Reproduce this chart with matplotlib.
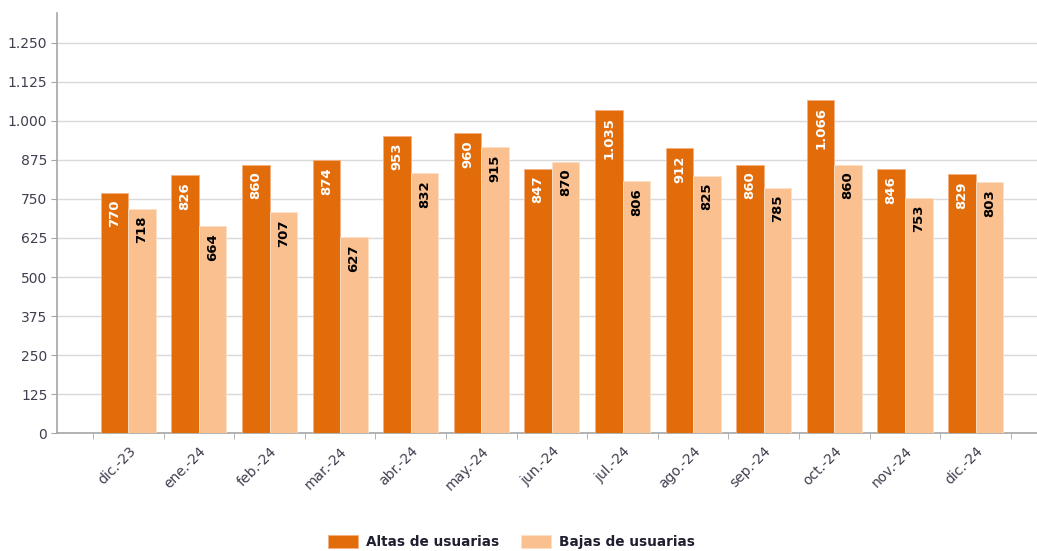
import matplotlib

matplotlib.use("Agg")
import matplotlib.pyplot as plt  # noqa: E402
import numpy as np  # noqa: E402

meses = ["dic.-23", "ene.-24", "feb.-24", "mar.-24", "abr.-24", "may.-24", "jun.-24",
         "jul.-24", "ago.-24", "sep.-24", "oct.-24", "nov.-24", "dic.-24"]
altas = [770, 826, 860, 874, 953, 960, 847, 1035, 912, 860, 1066, 846, 829]
bajas = [718, 664, 707, 627, 832, 915, 870, 806, 825, 785, 860, 753, 803]
yticks = [0, 125, 250, 375, 500, 625, 750, 875, 1000, 1125, 1250]

C_ALTAS = "#E36C0A"
C_BAJAS = "#FAC090"
TXT = "#3F3F4F"


def fmt(v):
    return f"{v:,}".replace(",", ".")


fig = plt.figure(figsize=(10.37, 5.51), dpi=100)
ax = fig.add_axes([0.055, 0.214, 0.945, 0.762])

x = np.arange(len(meses))
w = 0.39
b1 = ax.bar(x - w / 2, altas, w, color=C_ALTAS, edgecolor="#F4B183", linewidth=0.6,
            label="Altas de usuarias", zorder=3)
b2 = ax.bar(x + w / 2, bajas, w, color=C_BAJAS, edgecolor="#FDE0C8", linewidth=0.6,
            label="Bajas de usuarias", zorder=3)

# etiquetas de valor dentro de la barra, giradas
for xi, v in zip(x, altas):
    ax.annotate(fmt(v), (xi - w / 2, v), xytext=(0, -5), textcoords="offset points",
                rotation=90, ha="center", va="top", color="white",
                fontsize=9.5, fontweight="bold", zorder=4)
for xi, v in zip(x, bajas):
    ax.annotate(fmt(v), (xi + w / 2, v), xytext=(0, -5), textcoords="offset points",
                rotation=90, ha="center", va="top", color="black",
                fontsize=9.5, fontweight="bold", zorder=4)

ax.set_ylim(0, 1345)
ax.set_xlim(-1.01, 12.87)
ax.set_yticks(yticks)
ax.set_yticklabels([fmt(v) for v in yticks], color=TXT, fontsize=10)
ax.yaxis.grid(True, color="#D9D9D9", lw=1, zorder=0)

ax.set_xticks(x)
ax.set_xticklabels(meses, rotation=45, ha="right", rotation_mode="anchor",
                   color=TXT, fontsize=10)
ax.tick_params(axis="x", which="major", length=0, pad=8)
ax.set_xticks(np.arange(len(meses) + 1) - 0.5, minor=True)
ax.tick_params(axis="x", which="minor", length=4, color="#A6A6A6")
ax.tick_params(axis="y", length=4, color="#A6A6A6", pad=3)

for s in ["top", "right"]:
    ax.spines[s].set_visible(False)
for s in ["left", "bottom"]:
    ax.spines[s].set_color("#A6A6A6")
    ax.spines[s].set_linewidth(1.2)

leg = fig.legend(handles=[b1, b2], loc="lower center", bbox_to_anchor=(0.493, -0.019),
                 ncol=2, frameon=False, handlelength=2.2, handleheight=1.0,
                 columnspacing=1.6, handletextpad=0.6,
                 prop={"weight": "bold", "size": 9.8})
for t in leg.get_texts():
    t.set_color("#1F1F2F")

fig.savefig("out.png", dpi=100)
plt.close(fig)
